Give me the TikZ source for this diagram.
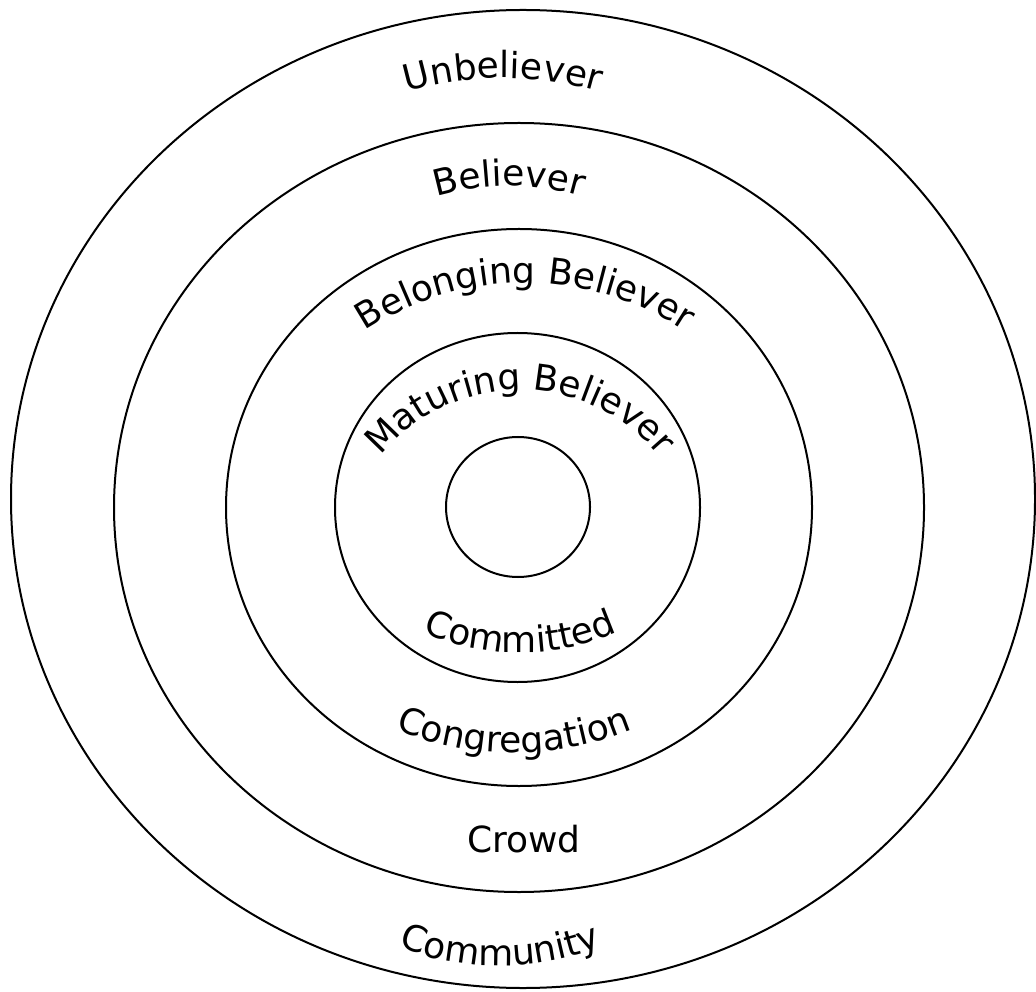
\documentclass[tikz,border=0pt]{standalone}
\usepackage{fontspec}
\setmainfont{DejaVu Sans}
\usetikzlibrary{decorations.text}

\newcommand{\ringfont}{\fontsize{18}{20}\selectfont}
\tikzset{
    ring/.style={line width=1pt},
    ringlabel/.style={decorate, decoration={text along path, text align=center, text={|\ringfont|#1}}}
}

\begin{document}
\begin{tikzpicture}[x=0.5pt, y=0.5pt]
        \useasboundingbox (0,0) rectangle (1036,991);

        % Rings, outside in
        \draw[ring] (523,492) ellipse [x radius=512, y radius=489]; % Community
        \draw[ring] (519,483.5) ellipse [x radius=405, y radius=384.5]; % Crowd
        \draw[ring] (519,483.5) ellipse [x radius=293, y radius=278.5]; % Congregation
        \draw[ring] (517.5,483.5) ellipse [x radius=182.5, y radius=174.5]; % Committed
        \draw[ring] (518,484) ellipse [x radius=72, y radius=70]; % Core

        % Labels on the upper arcs
        \path[ringlabel=Unbeliever] (503,573) ++(180:340) arc[start angle=180, end angle=0, radius=340];
        \path[ringlabel=Believer] (509,551) ++(180:254) arc[start angle=180, end angle=0, radius=254];
        \path[ringlabel=Belonging Believer] (525,418) ++(180:290) arc[start angle=180, end angle=0, radius=290];
        \path[ringlabel=Maturing Believer] (520,421) ++(180:180) arc[start angle=180, end angle=0, radius=180];

        % Labels on the lower arcs
        \path[ringlabel=Committed] (520,575) ++(180:237) arc[start angle=180, end angle=360, radius=237];
        \path[ringlabel=Congregation] (514,548) ++(180:310) arc[start angle=180, end angle=360, radius=310];
        \node[font=\ringfont, anchor=base] (crowd) at (524,139) {Crowd};
        \path[ringlabel=Community] (500,300) ++(180:275) arc[start angle=180, end angle=360, radius=275];
    \end{tikzpicture}
\end{document}
